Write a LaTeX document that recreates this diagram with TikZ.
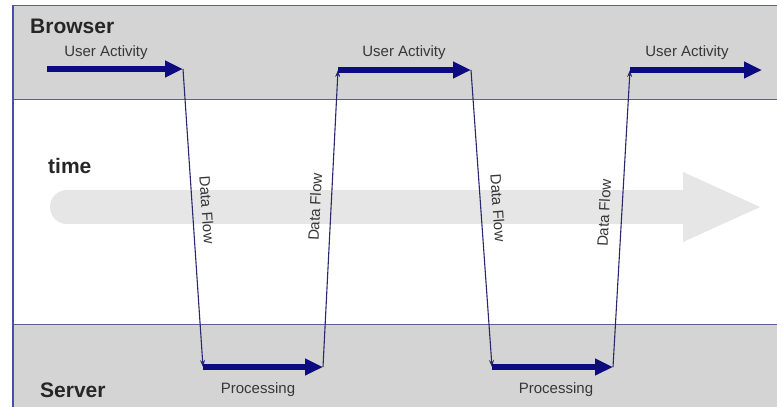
\documentclass[tikz,border=0pt]{standalone}
\usepackage{fontspec}
\setmainfont{Liberation Sans}
\usetikzlibrary{arrows.meta}
\definecolor{band}{RGB}{212,212,212}
\definecolor{bigarrow}{RGB}{230,230,230}
\definecolor{frameline}{RGB}{95,95,150}
\definecolor{navy}{RGB}{12,12,128}
\definecolor{flow}{RGB}{40,40,110}
\definecolor{txt}{RGB}{55,55,55}
\tikzset{
  title/.style={font=\fontsize{21}{24}\selectfont\bfseries, text=black!85, inner sep=0pt, anchor=base west},
  lbl/.style={font=\fontsize{15}{17}\selectfont, text=txt, inner sep=0pt, anchor=base},
  flowlbl/.style={font=\fontsize{15}{17}\selectfont, text=txt, inner sep=0pt},
  thick arrow/.style={draw=navy, line width=6pt, -{Triangle[length=18pt,width=16pt]}},
  flow line/.style={draw=flow, line width=1.1pt, -{Stealth[length=7pt,width=5pt]}}
}
\begin{document}
\begin{tikzpicture}[x=1pt,y=-1pt]
\useasboundingbox (0,0) rectangle (777,407);
\fill[white] (0,0) rectangle (777,407);
% bands
\fill[band] (13,5) rectangle (777,99);
\fill[band] (13,324) rectangle (777,407);
\draw[frameline, line width=1pt] (13,5) -- (777,5);
\draw[frameline, line width=1pt] (13,99) -- (777,99);
\draw[frameline, line width=1pt] (13,324) -- (777,324);
\draw[frameline!80!blue, line width=1.2pt] (13,5) -- (13,407);
% big time arrow
\draw[bigarrow, line width=34pt, line cap=round] (67,207) -- (685,207);
\fill[bigarrow] (683,172) -- (760,207) -- (683,242) -- cycle;
% titles
\node[title] (browser) at (30,33) {Browser};
\node[title] (time) at (48,173) {time};
\node[title] (server) at (40,397) {Server};
% coordinates
\coordinate (a1s) at (47,69);
\coordinate (a1e) at (183,69);
\coordinate (p1s) at (203,367);
\coordinate (p1e) at (323,367);
\coordinate (a2s) at (338,70);
\coordinate (a2e) at (471,70);
\coordinate (p2s) at (492,367);
\coordinate (p2e) at (613,367);
\coordinate (a3s) at (630,70);
\coordinate (a3e) at (762,70);
% thin data flow lines
\draw[flow line] (a1e) -- (p1s);
\draw[flow line] (p1e) -- (a2s);
\draw[flow line] (a2e) -- (p2s);
\draw[flow line] (p2e) -- (a3s);
% thick arrows
\draw[thick arrow] (a1s) -- (a1e);
\draw[thick arrow] (p1s) -- (p1e);
\draw[thick arrow] (a2s) -- (a2e);
\draw[thick arrow] (p2s) -- (p2e);
\draw[thick arrow] (a3s) -- (a3e);
% labels
\node[lbl] (ua1) at (106,56) {User Activity};
\node[lbl] (ua2) at (404,56) {User Activity};
\node[lbl] (ua3) at (687,56) {User Activity};
\node[lbl] (pr1) at (258,393) {Processing};
\node[lbl] (pr2) at (556,393) {Processing};
\node[flowlbl, rotate=-86] (df1) at (207,210) {Data Flow};
\node[flowlbl, rotate=87] (df2) at (315,207) {Data Flow};
\node[flowlbl, rotate=-86] (df3) at (498,208) {Data Flow};
\node[flowlbl, rotate=87] (df4) at (604,213) {Data Flow};
\end{tikzpicture}
\end{document}
